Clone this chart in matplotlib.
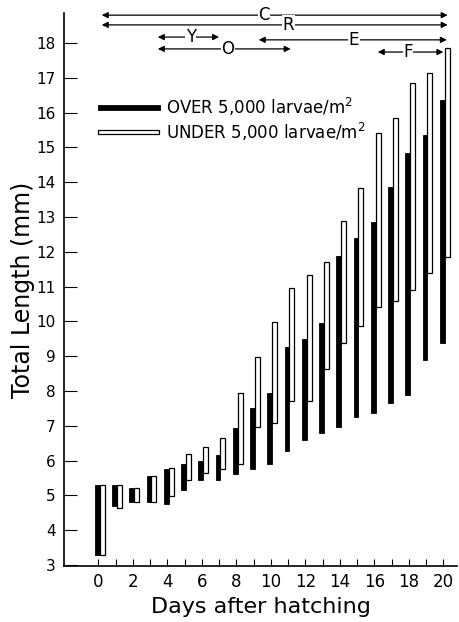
import matplotlib.pyplot as plt
from matplotlib.patches import Rectangle

# ---- data (mm) ----
days = list(range(21))

over_low = [3.3, 4.7, 4.8, 4.8, 4.75, 5.15, 5.45, 5.45, 5.6, 5.75, 5.9,
            6.28, 6.6, 6.8, 6.97, 7.25, 7.37, 7.66, 7.88, 8.89, 9.38]
over_high = [5.3, 5.3, 5.2, 5.55, 5.75, 5.9, 6.0, 6.15, 6.95, 7.5, 7.95,
             9.25, 9.5, 9.95, 11.88, 12.4, 12.86, 13.85, 14.85, 15.35, 16.35]

under_low = [3.3, 4.65, 4.8, 4.8, 4.98, 5.45, 5.65, 5.75, 5.9, 6.97, 7.08,
             7.71, 7.71, 8.63, 9.38, 9.87, 10.41, 10.58, 10.9, 11.39, 11.85]
under_high = [5.3, 5.3, 5.2, 5.55, 5.8, 6.2, 6.4, 6.65, 7.95, 8.98, 9.98,
              10.96, 11.33, 11.7, 12.88, 13.83, 15.4, 15.85, 16.85, 17.15, 17.85]

# stage arrows: label, start day, end day, height (mm)
stages = [
    ("C", 0.2, 20.25, 18.80),
    ("R", 0.2, 20.25, 18.52),
    ("Y", 3.45, 7.0, 18.17),
    ("E", 9.3, 20.2, 18.09),
    ("O", 3.45, 11.15, 17.83),
    ("F", 16.2, 20.0, 17.74),
]
label_pos = {"C": 9.6, "R": 11.0, "Y": 5.35, "E": 14.8, "O": 7.5, "F": 17.95}

yticks = list(range(3, 19))

# ==============================
# Plot
# ==============================
fig = plt.figure(figsize=(4.59, 6.22), dpi=100)
ax = fig.add_axes([0.139, 0.090, 0.857, 0.889])

for d, lo, hi in zip(days, over_low, over_high):
    ax.bar(d - 0.2, hi - lo, bottom=lo, width=0.27, align='edge',
           color='black', edgecolor='black', linewidth=0.6)
for d, lo, hi in zip(days, under_low, under_high):
    ax.bar(d + 0.07, hi - lo, bottom=lo, width=0.3, align='edge',
           color='white', edgecolor='black', linewidth=0.9)

# legend drawn by hand like the original
ax.add_patch(Rectangle((0.0, 16.08), 3.55, 0.15, facecolor='black',
                       edgecolor='black', lw=0.6))
ax.add_patch(Rectangle((0.0, 15.38), 3.5, 0.12, facecolor='white',
                       edgecolor='black', lw=0.9))
ax.text(3.9, 16.155, r'OVER 5,000 larvae/m$^{2}$', fontsize=12,
        va='center', ha='left')
ax.text(3.9, 15.44, r'UNDER 5,000 larvae/m$^{2}$', fontsize=12,
        va='center', ha='left')

# stage arrows along the top
for lab, x0, x1, yv in stages:
    ax.annotate('', xy=(x1, yv), xytext=(x0, yv),
                arrowprops=dict(arrowstyle='<|-|>', color='black', lw=0.9,
                                mutation_scale=9, shrinkA=0, shrinkB=0),
                annotation_clip=False)
    ax.text(label_pos[lab], yv, lab, fontsize=12, ha='center', va='center',
            bbox=dict(facecolor='white', edgecolor='none', pad=0.5))

ax.set_xlim(-2.0, 20.8)
ax.set_ylim(2.97, 18.86)

ax.spines['top'].set_visible(False)
ax.spines['right'].set_visible(False)
ax.spines['left'].set_linewidth(1.2)
ax.spines['bottom'].set_linewidth(1.2)

ax.set_yticks(yticks)
ax.set_xticks(days)
ax.set_xticklabels([str(d) if d % 2 == 0 else '' for d in days])
ax.tick_params(axis='y', direction='in', length=9, width=0.8, labelsize=11, pad=6)
ax.tick_params(axis='x', direction='in', length=5, width=0.8, labelsize=12, pad=5)

ax.set_xlabel('Days after hatching', fontsize=16, labelpad=4)
ax.set_ylabel('Total Length (mm)', fontsize=17, labelpad=1)

fig.savefig('out.png', dpi=100)
